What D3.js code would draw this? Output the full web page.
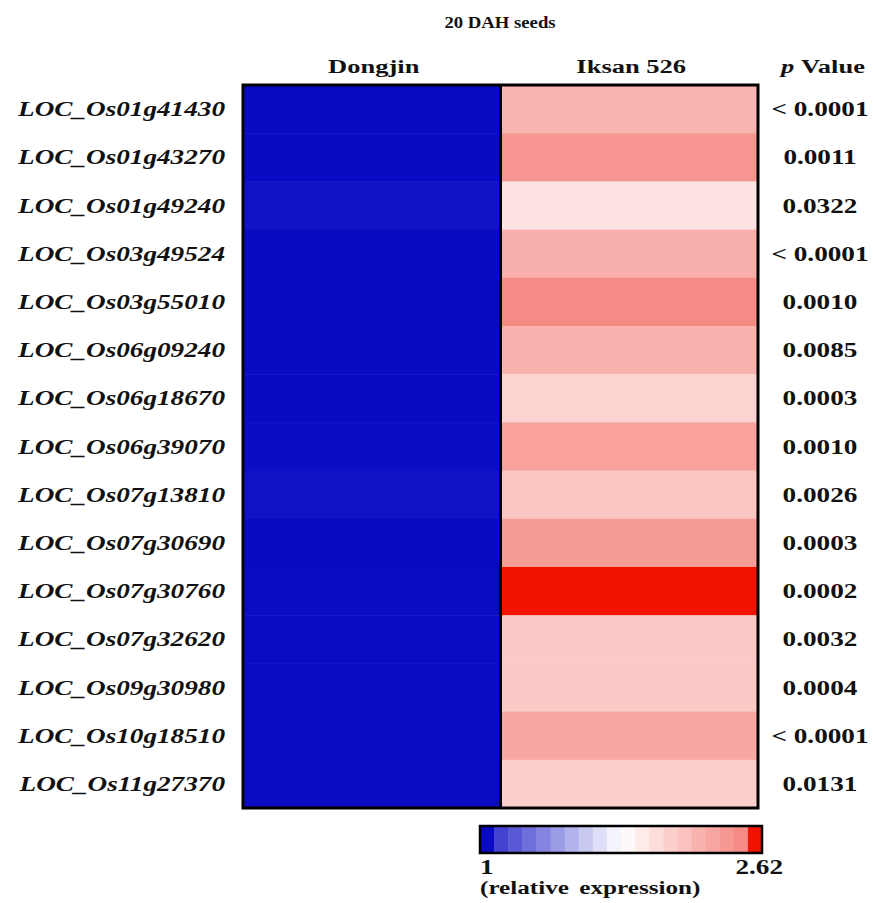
<!DOCTYPE html>
<html>
<head>
<meta charset="utf-8">
<script src="https://cdn.jsdelivr.net/npm/d3@7"></script>
<style>
  body { margin: 0; background: #fff; }
  text { font-family: "Liberation Serif", "Times New Roman", serif; font-weight: bold; fill: #111; }
</style>
</head>
<body>
<div id="wrapper"></div>
<script>
// data
const genes = [
    "LOC_Os01g41430", "LOC_Os01g43270", "LOC_Os01g49240", "LOC_Os03g49524",
    "LOC_Os03g55010", "LOC_Os06g09240", "LOC_Os06g18670", "LOC_Os06g39070",
    "LOC_Os07g13810", "LOC_Os07g30690", "LOC_Os07g30760", "LOC_Os07g32620",
    "LOC_Os09g30980", "LOC_Os10g18510", "LOC_Os11g27370"
];
const cultivars = ["Dongjin", "Iksan 526"];
const dongjin = [1.0, 1.0, 1.012, 1.0, 1.0, 1.0, 1.0, 1.003, 1.01, 1.0, 1.002, 1.002, 1.002, 1.002, 1.002];
const iksan = [2.27, 2.46, 1.98, 2.30, 2.53, 2.29, 2.08, 2.39, 2.17, 2.43, 2.62, 2.14, 2.14, 2.36, 2.11];
const pValues = ["< 0.0001", "0.0011", "0.0322", "< 0.0001", "0.0010", "0.0085", "0.0003",
    "0.0010", "0.0026", "0.0003", "0.0002", "0.0032", "0.0004", "< 0.0001", "0.0131"];
const legendMin = 1, legendMax = 2.62, legendSteps = 20;

const width = 874, height = 903;
const box = {left: 243, right: 758, top: 85, bottom: 808};
const stretch = 1.36; // the type in the figure is drawn wide

const svg = d3.select("#wrapper").append("svg")
    .attr("width", width)
    .attr("height", height);

// text helper: places text at (x, y) and widens it around its anchor
function label(parent, x, y, size, anchor, sx) {
    return parent.append("text")
        .attr("transform", `translate(${x},${y}) scale(${sx || stretch},1)`)
        .attr("text-anchor", anchor || "start")
        .style("font-size", size + "px");
}

const xScale = d3.scaleBand()
    .domain(cultivars)
    .range([box.left, box.right]);

const yScale = d3.scaleBand()
    .domain(genes)
    .range([box.top, box.bottom]);

// colour: blue -> white -> salmon, with a hard jump to red at the top bin
const step = (legendMax - legendMin) / (legendSteps - 1);
const mid = (legendMin + legendMax) / 2;
const color = d3.scaleLinear()
    .domain([legendMin, legendMin + step, mid, legendMax - step, legendMax])
    .range(["#0a0ac4", "#4343d0", "#ffffff", "#f68a84", "#f01400"])
    .clamp(true);

const cells = [];
genes.forEach((g, i) => {
    cells.push({gene: g, cult: cultivars[0], value: dongjin[i]});
    cells.push({gene: g, cult: cultivars[1], value: iksan[i]});
});

svg.append("g").selectAll("rect")
    .data(cells)
    .join("rect")
    .attr("x", d => xScale(d.cult))
    .attr("y", d => yScale(d.gene))
    .attr("width", xScale.bandwidth())
    .attr("height", yScale.bandwidth() + 0.5)
    .attr("fill", d => color(d.value));

// borders
svg.append("rect")
    .attr("x", box.left).attr("y", box.top)
    .attr("width", box.right - box.left).attr("height", box.bottom - box.top)
    .attr("fill", "none").attr("stroke", "#000").attr("stroke-width", 3);
svg.append("line")
    .attr("x1", xScale(cultivars[1])).attr("x2", xScale(cultivars[1]))
    .attr("y1", box.top).attr("y2", box.bottom)
    .attr("stroke", "#000").attr("stroke-width", 3);

// gene labels
genes.forEach(g => {
    label(svg, 225, yScale(g) + yScale.bandwidth() / 2 + 7, 20, "end")
        .style("font-style", "italic")
        .text(g);
});

// p values
pValues.forEach((p, i) => {
    label(svg, 820, yScale(genes[i]) + yScale.bandwidth() / 2 + 7, 20, "middle")
        .text(p);
});

// headers
label(svg, 500, 28, 17, "middle", 1.1).text("20 DAH seeds");

cultivars.forEach(c => {
    label(svg, xScale(c) + xScale.bandwidth() / 2 + 2, 73, 19.5, "middle").text(c);
});

const pHead = label(svg, 823, 73, 19.5, "middle");
pHead.append("tspan").style("font-style", "italic").text("p");
pHead.append("tspan").attr("dx", 5).text("Value");

// legend
const legend = {left: 480, right: 762, top: 826, bottom: 853};
const legendValues = d3.range(legendSteps).map(i => legendMin + i * step);
const lx = d3.scaleBand()
    .domain(legendValues)
    .range([legend.left, legend.right]);

svg.append("g").selectAll("rect")
    .data(legendValues)
    .join("rect")
    .attr("x", d => lx(d))
    .attr("y", legend.top)
    .attr("width", lx.bandwidth() + 0.5)
    .attr("height", legend.bottom - legend.top)
    .attr("fill", d => color(d));

svg.append("rect")
    .attr("x", legend.left).attr("y", legend.top)
    .attr("width", legend.right - legend.left).attr("height", legend.bottom - legend.top)
    .attr("fill", "none").attr("stroke", "#000").attr("stroke-width", 2.5);

label(svg, legend.left, 874, 20).text(legendMin);
label(svg, 783, 874, 20, "end").text(legendMax);
label(svg, legend.left, 894, 18.5)
    .style("word-spacing", "3px")
    .text("(relative expression)");
</script>
</body>
</html>
